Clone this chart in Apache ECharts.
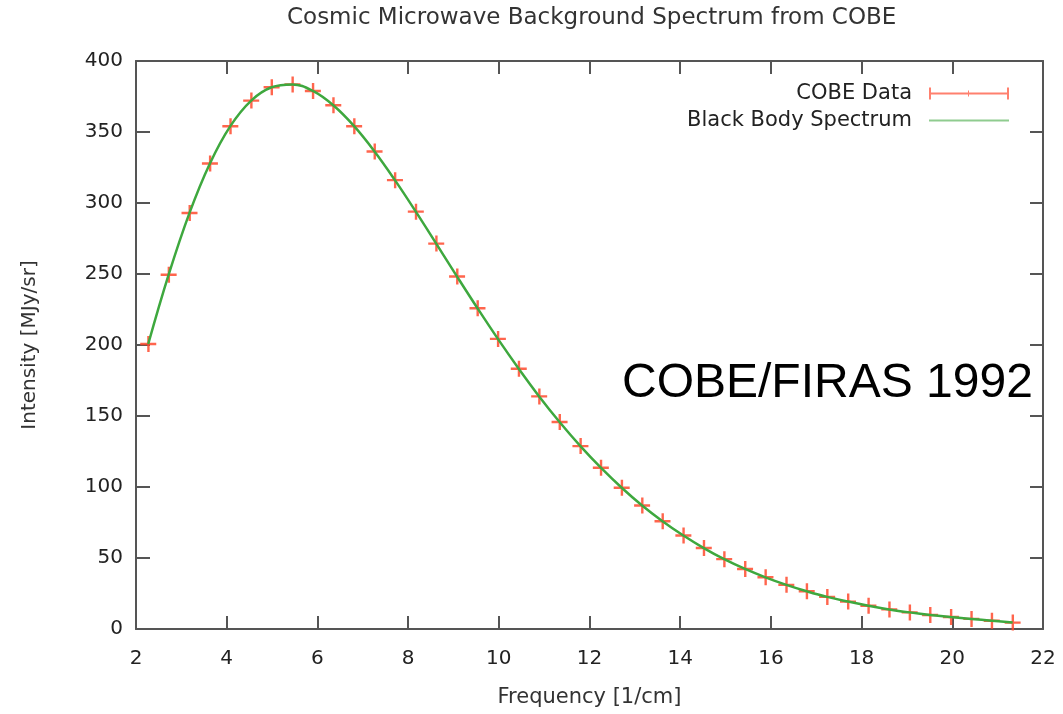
<!DOCTYPE html>
<html>
<head>
<meta charset="utf-8">
<script src="https://cdn.jsdelivr.net/npm/echarts@6/dist/echarts.min.js"></script>
<style>
  html, body { margin: 0; padding: 0; background: #fff; }
  #chart { width: 1063px; height: 714px; }
</style>
</head>
<body>
<div id="chart"></div>
<script>
// 频率 (1/cm) 与强度 (MJy/sr)
const frequency = [2.27, 2.72, 3.18, 3.63, 4.08, 4.54, 4.99, 5.45, 5.90, 6.35,
  6.81, 7.26, 7.71, 8.17, 8.62, 9.08, 9.53, 9.98, 10.44, 10.89,
  11.34, 11.80, 12.25, 12.71, 13.16, 13.61, 14.07, 14.52, 14.97, 15.43,
  15.88, 16.34, 16.79, 17.24, 17.70, 18.15, 18.61, 19.06, 19.51, 19.97,
  20.42, 20.87, 21.33];
const cobeIntensity = [200.7, 249.5, 293.0, 327.8, 354.1, 372.1, 381.5, 383.5, 378.9, 368.8,
  354.1, 336.3, 316.1, 293.9, 271.4, 248.2, 225.9, 204.3, 183.3, 163.8,
  145.8, 128.8, 113.6, 99.5, 87.0, 75.9, 65.8, 57.0, 49.2, 42.3,
  36.4, 31.1, 26.6, 22.6, 19.3, 16.4, 13.8, 11.7, 9.9, 8.4,
  7.1, 5.8, 4.5];
// 黑体谱曲线（与数据几乎重合）
const blackBody = [200.7, 249.5, 293.0, 327.8, 354.1, 372.1, 381.5, 383.5, 378.9, 368.8,
  354.1, 336.3, 316.1, 293.9, 271.4, 248.2, 225.9, 204.3, 183.3, 163.8,
  145.8, 128.8, 113.6, 99.5, 87.0, 75.9, 65.8, 57.0, 49.2, 42.3,
  36.4, 31.1, 26.6, 22.6, 19.3, 16.4, 13.8, 11.7, 9.9, 8.4,
  7.1, 5.8, 4.5];

const FONT = 'DejaVu Sans';
const RED = '#ff4a2e';
const GREEN = '#3ea83e';
const AXIS = '#555';

const cross = 'path://M7,0h2.4v16h-2.4zM0,6.8h16v2.4h-16z';
const errIcon = 'path://M0,0h2v12h-2zM0,5h80v2h-80zM39,3h1v6h-1zM78,0h2v12h-2z';
const lineIcon = 'path://M0,0h80v2h-80z';

function frameAxis(pos, isX) {
  return {
    type: 'value',
    position: pos,
    min: isX ? 2 : 0,
    max: isX ? 22 : 400,
    interval: isX ? 2 : 50,
    axisLine: { show: true, onZero: false, lineStyle: { color: AXIS, width: 2 } },
    axisTick: { show: true, inside: true, length: 13, lineStyle: { color: AXIS, width: 2 } },
    axisLabel: { show: false },
    splitLine: { show: false }
  };
}

const chart = echarts.init(document.getElementById('chart'));
chart.setOption({
  animation: false,
  title: {
    text: 'Cosmic Microwave Background Spectrum from COBE',
    left: 282,
    top: 2,
    textStyle: { fontFamily: FONT, fontSize: 23, fontWeight: 'normal', color: '#333' }
  },
  legend: [
    {
      data: [{ name: 'COBE Data', icon: errIcon, itemStyle: { color: '#ff6a55' } }],
      right: 49, top: 78, itemWidth: 80, itemHeight: 12, align: 'right',
      textStyle: { fontFamily: FONT, fontSize: 21, color: '#222', padding: [0, 12, 0, 0] }
    },
    {
      data: [{ name: 'Black Body Spectrum', icon: lineIcon, itemStyle: { color: '#8fcc8f' } }],
      right: 49, top: 105, itemWidth: 80, itemHeight: 2, align: 'right',
      textStyle: { fontFamily: FONT, fontSize: 21, color: '#222', padding: [0, 12, 0, 0] }
    }
  ],
  grid: { left: 136, right: 20, top: 61, bottom: 85, containLabel: false },
  xAxis: [
    {
      type: 'value',
      min: 2, max: 22, interval: 2,
      name: 'Frequency [1/cm]',
      nameLocation: 'middle',
      nameGap: 58,
      nameTextStyle: { fontFamily: FONT, fontSize: 21, color: '#333' },
      axisLine: { show: true, onZero: false, lineStyle: { color: AXIS, width: 2 } },
      axisTick: { show: true, inside: true, length: 13, lineStyle: { color: AXIS, width: 2 } },
      axisLabel: { fontFamily: FONT, fontSize: 20, color: '#222', margin: 20 },
      splitLine: { show: false }
    },
    frameAxis('top', true)
  ],
  yAxis: [
    {
      type: 'value',
      min: 0, max: 400, interval: 50,
      name: 'Intensity [MJy/sr]',
      nameLocation: 'middle',
      nameGap: 96,
      nameTextStyle: { fontFamily: FONT, fontSize: 20, color: '#333' },
      axisLine: { show: true, onZero: false, lineStyle: { color: AXIS, width: 2 } },
      axisTick: { show: true, inside: true, length: 14, lineStyle: { color: AXIS, width: 2 } },
      axisLabel: { fontFamily: FONT, fontSize: 20, color: '#222', margin: 13 },
      splitLine: { show: false }
    },
    frameAxis('right', false)
  ],
  graphic: [
    {
      type: 'text',
      left: 622,
      top: 360,
      z: 10,
      style: { text: 'COBE/FIRAS 1992', font: '48px "Liberation Sans", Arial, sans-serif', fill: '#000' }
    }
  ],
  series: [
    {
      name: 'COBE Data',
      type: 'scatter',
      symbol: cross,
      symbolSize: 16,
      itemStyle: { color: RED, opacity: 0.85 },
      z: 2,
      data: frequency.map((f, i) => [f, cobeIntensity[i]])
    },
    {
      name: 'Black Body Spectrum',
      type: 'line',
      smooth: 0.4,
      showSymbol: false,
      symbol: 'none',
      lineStyle: { color: GREEN, width: 2.5 },
      itemStyle: { color: GREEN },
      z: 3,
      data: frequency.map((f, i) => [f, blackBody[i]])
    }
  ]
});
</script>
</body>
</html>
